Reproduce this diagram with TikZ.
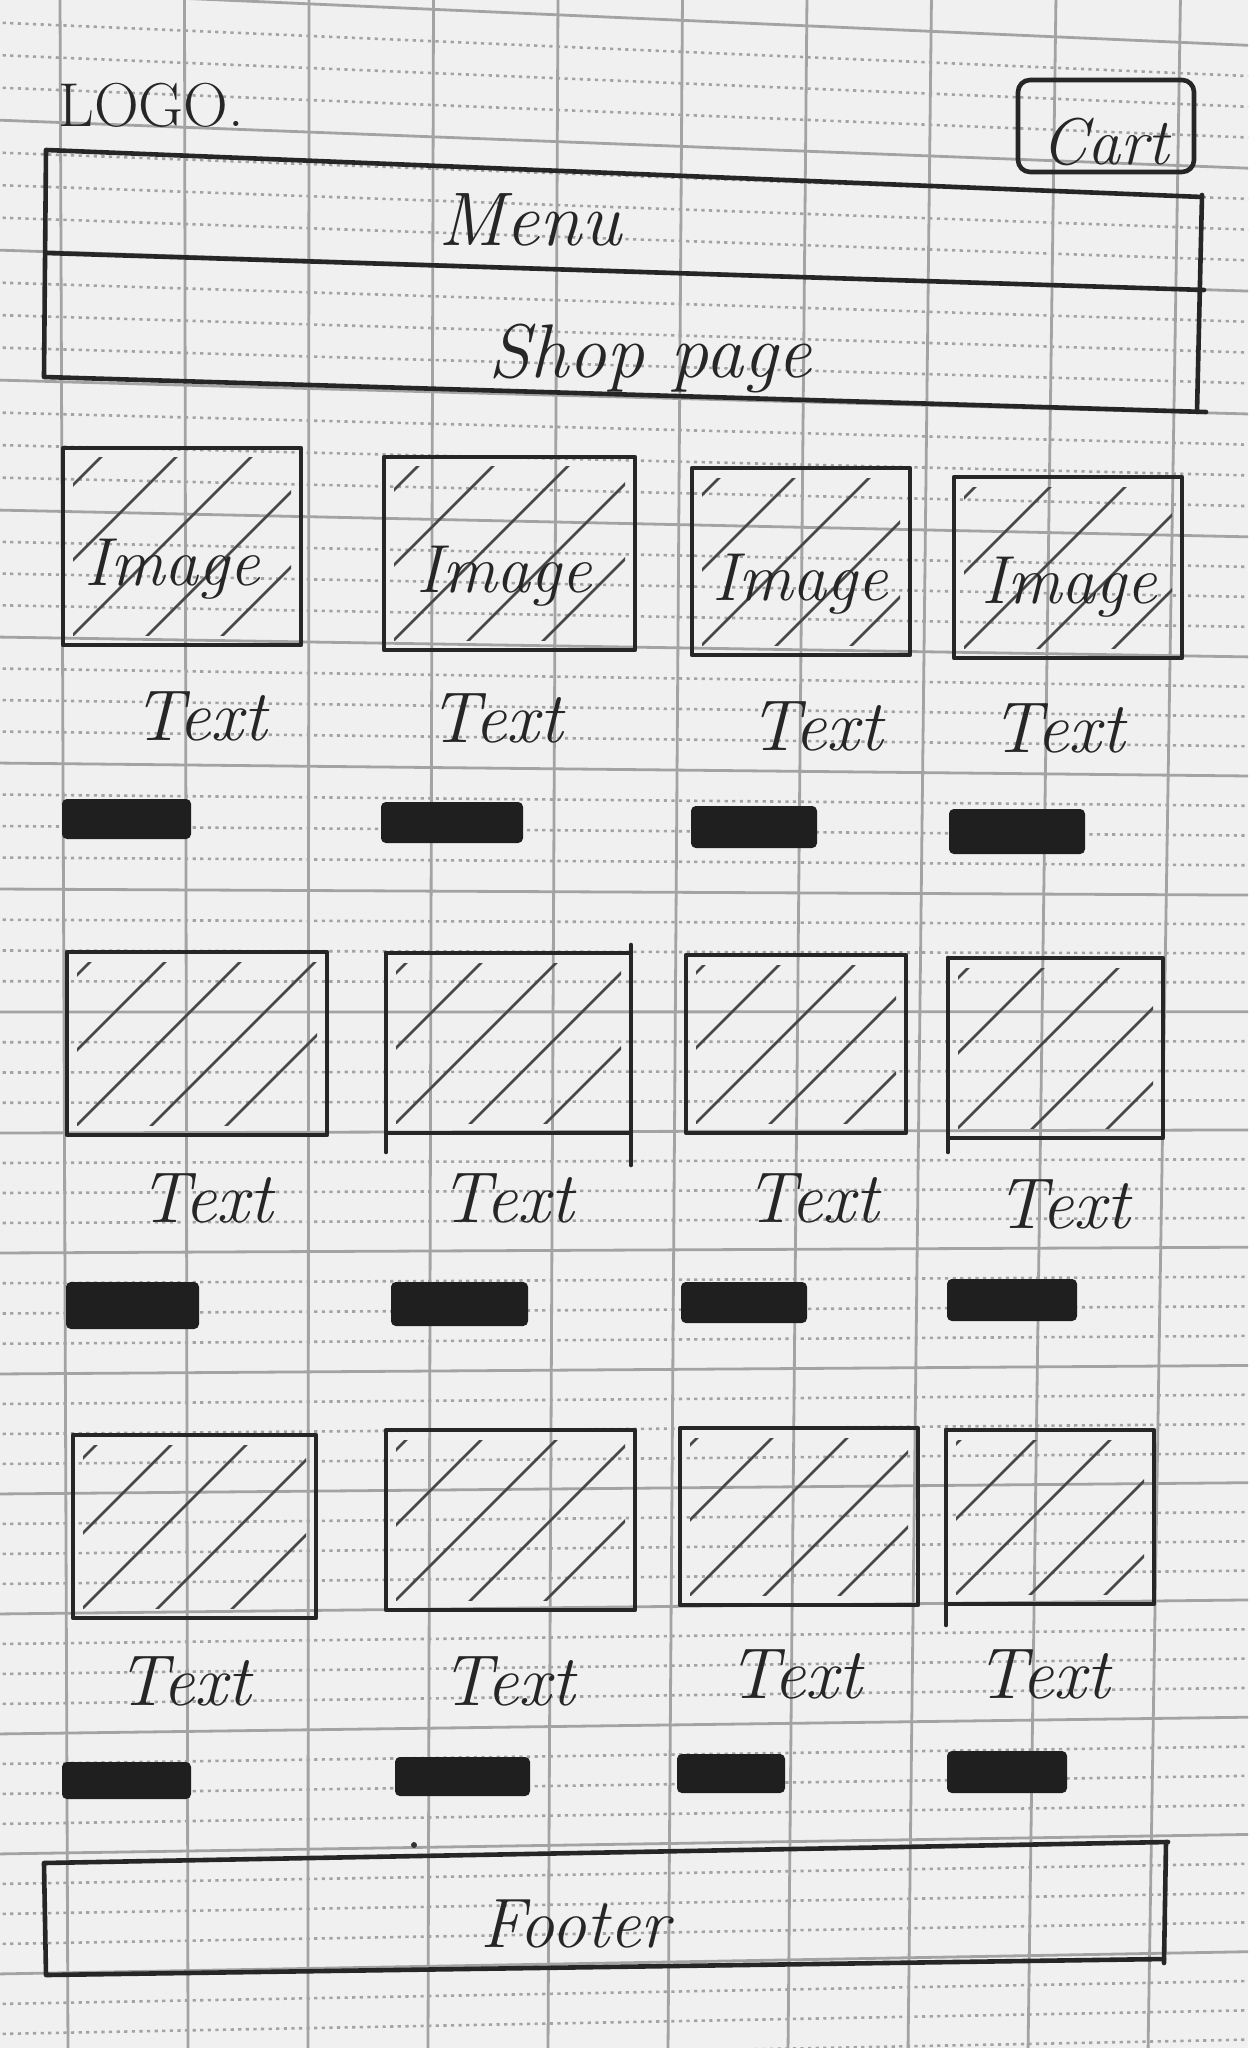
\documentclass[tikz,border=0pt]{standalone}
\usepackage{fontspec}
\usetikzlibrary{calc}
\newcommand{\fsz}[1]{\fontsize{#1}{#1}\selectfont}
\tikzset{
  pencil/.style={draw=black!85, line width=2.3pt, line cap=round, line join=round},
  hatch/.style={draw=black!72, line width=1.3pt, line cap=round},
  gridsolid/.style={draw=black!36, line width=1.4pt},
  griddash/.style={draw=black!36, line width=1.3pt, dash pattern=on 1.6pt off 2.2pt},
  barfill/.style={fill=black!88, draw=black!88, line width=1pt, rounded corners=2pt},
  hand/.style={text=black!85, inner sep=0pt, anchor=base},
}
% image placeholder: name, x1, y1, x2, y2
\newcommand{\imgcell}[5]{%
  \coordinate (#1-nw) at (#2,#3);
  \coordinate (#1-se) at (#4,#5);
  \begin{scope}
    \clip ($(#1-nw)+(10,10)$) rectangle ($(#1-se)+(-10,-10)$);
    \foreach \s in {-150,-75,...,160} \draw[hatch] ($(#2,#5)+(\s,0)$) -- ++(330,-330);
  \end{scope}
  \draw[pencil] (#1-nw) rectangle (#1-se);
}
\begin{document}
\begin{tikzpicture}[x=0.5pt,y=-0.5pt,
  declare function={dd(\t)=(\t<1000)*(55-0.055*\t)+(\t>=1000)*(-(\t-1000)*0.023);}]
\useasboundingbox (0,0) rectangle (1248,2048);
\fill[black!6] (0,0) rectangle (1248,2048);
% ---------- graph paper ----------
\begin{scope}
  \clip (0,0) rectangle (1248,2048);
  \foreach \a/\b in {-10/120,120/250,250/380,380/510,510/637,637/763,763/889,889/1012,1012/1133,1133/1253,1253/1374,1374/1494,1494/1614,1614/1734,1734/1854,1854/1974,1974/2094}{
    \draw[gridsolid] (-5,\a) -- (1253,{\a+dd(\a)});
    \foreach \k in {1,2,3}{
      \pgfmathsetmacro\yy{\a+(\b-\a)*\k/4}
      \draw[griddash] (-5,\yy) -- (1253,{\yy+dd(\yy)});
    }
  }
  \foreach \k in {0,...,9}
    \draw[gridsolid] ({60+124.5*\k},-5) -- ({68+120*\k},2053);
\end{scope}
% ---------- header ----------
\node[hand, anchor=base west] (logo) at (58,127) {\fsz{31}LOGO.};
\draw[pencil, rounded corners=6pt] (1018,80) rectangle (1194,172);
\node[hand] (cart) at (1105,165) {\fsz{33}\itshape Cart};
% menu / shop page band
\draw[pencil] (1202,197) -- (46,150) -- (44,377) -- (1206,412);
\draw[pencil] (1202,195) -- (1197,412);
\draw[pencil] (46,253) -- (1204,290);
\node[hand] (menu) at (530,246) {\fsz{38}\itshape Menu};
\node[hand] (shop) at (650,378) {\fsz{38}\itshape Shop page};
% ---------- row 1 ----------
\imgcell{b11}{63}{448}{301}{645}
\imgcell{b12}{384}{457}{635}{650}
\imgcell{b13}{692}{468}{910}{655}
\imgcell{b14}{954}{477}{1182}{658}
\node[hand] (i11) at (172,585) {\fsz{34}\itshape Image};
\node[hand] (i12) at (504,592) {\fsz{34}\itshape Image};
\node[hand] (i13) at (800,600) {\fsz{34}\itshape Image};
\node[hand] (i14) at (1069,603) {\fsz{34}\itshape Image};
\node[hand] (t11) at (200,740) {\fsz{36}\itshape Text};
\node[hand] (t12) at (496,742) {\fsz{36}\itshape Text};
\node[hand] (t13) at (816,750) {\fsz{36}\itshape Text};
\node[hand] (t14) at (1058,752) {\fsz{36}\itshape Text};
\draw[barfill] (63,800) rectangle (190,838);
\draw[barfill] (382,803) rectangle (522,842);
\draw[barfill] (692,807) rectangle (816,847);
\draw[barfill] (950,810) rectangle (1084,853);
% ---------- row 2 ----------
\imgcell{b21}{67}{952}{327}{1135}
\imgcell{b22}{386}{953}{631}{1133}
\imgcell{b23}{686}{955}{906}{1133}
\imgcell{b24}{948}{958}{1163}{1138}
\draw[pencil] (b22-nw) -- (386,1152);
\draw[pencil] (631,945) -- (631,1165);
\draw[pencil] (b24-nw) -- (948,1152);
\node[hand] (t21) at (206,1222) {\fsz{36}\itshape Text};
\node[hand] (t22) at (507,1222) {\fsz{36}\itshape Text};
\node[hand] (t23) at (812,1222) {\fsz{36}\itshape Text};
\node[hand] (t24) at (1063,1228) {\fsz{36}\itshape Text};
\draw[barfill] (67,1283) rectangle (198,1328);
\draw[barfill] (392,1283) rectangle (527,1325);
\draw[barfill] (682,1283) rectangle (806,1322);
\draw[barfill] (948,1280) rectangle (1076,1320);
% ---------- row 3 ----------
\imgcell{b31}{73}{1435}{316}{1618}
\imgcell{b32}{386}{1430}{635}{1610}
\imgcell{b33}{680}{1428}{918}{1605}
\imgcell{b34}{946}{1430}{1154}{1604}
\draw[pencil] (b34-nw) -- (946,1625);
\node[hand] (t31) at (184,1705) {\fsz{36}\itshape Text};
\node[hand] (t32) at (508,1705) {\fsz{36}\itshape Text};
\node[hand] (t33) at (795,1698) {\fsz{36}\itshape Text};
\node[hand] (t34) at (1043,1698) {\fsz{36}\itshape Text};
\draw[barfill] (63,1763) rectangle (190,1798);
\draw[barfill] (396,1758) rectangle (529,1795);
\draw[barfill] (678,1755) rectangle (784,1792);
\draw[barfill] (948,1752) rectangle (1066,1792);
% ---------- footer ----------
\fill[black!80] (414,1845) circle (3);
\draw[pencil] (1168,1842) -- (44,1863) -- (46,1975) -- (1164,1959);
\draw[pencil] (1166,1842) -- (1164,1963);
\node[hand] (footer) at (575,1947) {\fsz{35}\itshape Footer};
\end{tikzpicture}
\end{document}
